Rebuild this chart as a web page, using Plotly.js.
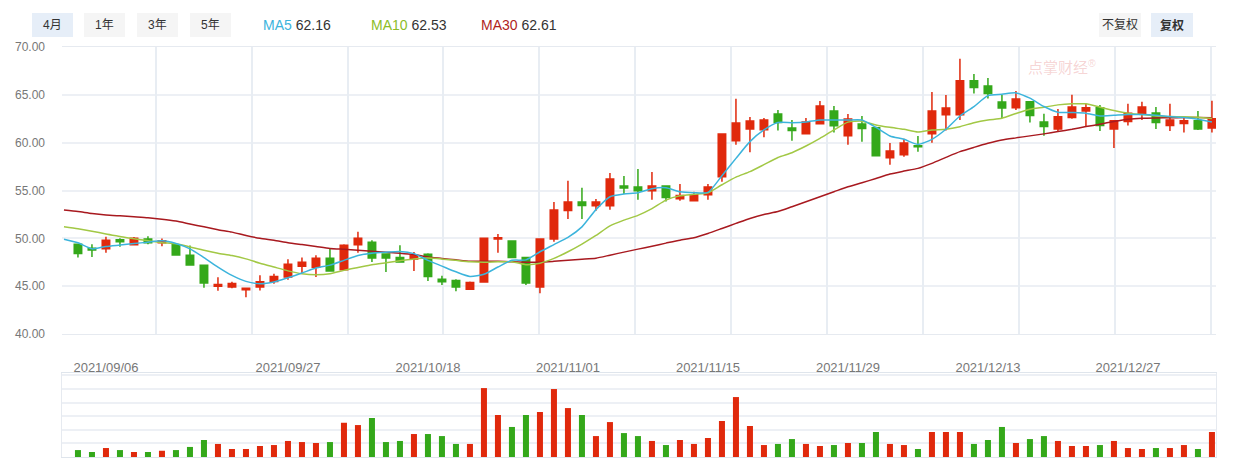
<!DOCTYPE html>
<html>
<head>
<meta charset="utf-8">
<script src="https://cdn.plot.ly/plotly-3.0.1.min.js"></script>
<style>
  html, body { margin: 0; padding: 0; background: #fff; }
  #chart { width: 1246px; height: 460px; }
</style>
</head>
<body>
<div id="chart"></div>
<script>
// K-line data (daily), 2021/09/02 - 2022/01/05

const dates = [
    '2021/09/02','2021/09/03','2021/09/06','2021/09/07','2021/09/08','2021/09/09','2021/09/10','2021/09/13','2021/09/14','2021/09/15',
    '2021/09/16','2021/09/17','2021/09/22','2021/09/23','2021/09/24','2021/09/27','2021/09/28','2021/09/29','2021/09/30','2021/10/08',
    '2021/10/11','2021/10/12','2021/10/13','2021/10/14','2021/10/15','2021/10/18','2021/10/19','2021/10/20','2021/10/21','2021/10/22',
    '2021/10/25','2021/10/26','2021/10/27','2021/10/28','2021/10/29','2021/11/01','2021/11/02','2021/11/03','2021/11/04','2021/11/05',
    '2021/11/08','2021/11/09','2021/11/10','2021/11/11','2021/11/12','2021/11/15','2021/11/16','2021/11/17','2021/11/18','2021/11/19',
    '2021/11/22','2021/11/23','2021/11/24','2021/11/25','2021/11/26','2021/11/29','2021/11/30','2021/12/01','2021/12/02','2021/12/03',
    '2021/12/06','2021/12/07','2021/12/08','2021/12/09','2021/12/10','2021/12/13','2021/12/14','2021/12/15','2021/12/16','2021/12/17',
    '2021/12/20','2021/12/21','2021/12/22','2021/12/23','2021/12/24','2021/12/27','2021/12/28','2021/12/29','2021/12/30','2021/12/31',
    '2022/01/04','2022/01/05'
];

const openP = [
    49.39, 48.97, 48.90, 49.85, 49.32, 49.92, 49.53, 49.32, 48.23, 47.18,
    45.00, 44.90, 44.62, 44.90, 45.50, 45.95, 47.08, 46.97, 47.92, 46.72,
    49.32, 49.60, 48.37, 47.99, 47.85, 48.34, 45.71, 45.60, 44.69, 45.43,
    49.92, 49.71, 47.99, 44.90, 49.92, 52.90, 53.81, 53.41, 53.41, 55.47,
    55.36, 54.98, 55.47, 54.14, 53.93, 54.56, 56.44, 60.21, 61.43, 61.36,
    63.00, 61.54, 60.94, 61.99, 63.32, 60.73, 61.95, 61.57, 58.43, 58.74,
    59.68, 60.94, 62.93, 62.93, 66.46, 65.93, 64.26, 63.66, 64.27, 62.17,
    61.44, 62.63, 63.32, 63.64, 61.44, 62.21, 63.08, 63.11, 61.79, 62.00,
    62.28, 61.54
];
const highP = [
    49.46, 49.39, 50.16, 50.02, 50.13, 50.23, 49.99, 49.39, 49.25, 47.20,
    45.92, 45.46, 44.83, 46.13, 46.30, 47.81, 47.99, 48.23, 48.93, 49.39,
    50.69, 49.81, 48.40, 49.29, 48.58, 48.44, 46.09, 45.71, 45.50, 50.02,
    50.44, 49.81, 48.00, 49.95, 53.81, 56.02, 55.29, 54.10, 56.83, 56.51,
    57.25, 56.93, 55.50, 55.68, 54.87, 55.68, 60.95, 64.58, 62.69, 62.59,
    63.42, 62.37, 62.58, 64.36, 63.84, 63.00, 62.79, 61.67, 59.96, 60.42,
    60.70, 65.30, 64.99, 68.76, 67.19, 66.77, 64.99, 65.41, 64.30, 63.01,
    63.53, 65.00, 64.06, 63.95, 62.38, 64.06, 64.27, 63.74, 64.06, 62.70,
    63.32, 64.37
];
const lowP = [
    47.99, 48.06, 48.48, 49.11, 49.25, 49.39, 49.18, 48.20, 47.15, 44.83,
    44.51, 44.79, 43.85, 44.55, 45.25, 45.67, 46.37, 45.95, 46.50, 46.65,
    48.48, 47.53, 46.48, 47.50, 46.58, 45.53, 45.11, 44.48, 44.69, 45.43,
    48.48, 47.92, 45.11, 44.27, 49.64, 52.02, 52.02, 52.88, 53.00, 54.63,
    54.03, 54.03, 53.86, 53.93, 53.90, 54.03, 55.92, 59.79, 59.00, 60.56,
    61.26, 60.21, 60.90, 61.95, 61.05, 59.79, 60.10, 58.60, 57.70, 58.53,
    59.06, 60.00, 61.26, 62.37, 65.13, 64.61, 62.58, 63.42, 62.10, 60.71,
    61.12, 62.49, 61.75, 61.23, 59.45, 61.79, 62.38, 61.44, 61.23, 61.06,
    61.33, 61.06
];
const closeP = [
    48.41, 48.79, 49.81, 49.64, 50.02, 49.53, 49.74, 48.27, 47.22, 45.32,
    45.18, 45.29, 44.79, 45.46, 46.02, 47.29, 47.50, 47.92, 46.58, 49.29,
    50.02, 47.95, 47.95, 47.53, 48.20, 46.02, 45.46, 44.90, 45.39, 50.02,
    50.06, 47.99, 45.32, 49.92, 52.97, 53.81, 53.43, 53.79, 56.20, 55.26,
    54.98, 55.47, 54.28, 54.49, 54.56, 55.36, 60.91, 62.06, 62.27, 62.38,
    62.10, 61.26, 62.16, 63.84, 61.78, 62.48, 61.47, 58.64, 59.13, 59.96,
    59.58, 63.32, 63.63, 66.46, 65.76, 65.13, 63.63, 64.57, 62.84, 61.68,
    62.70, 63.74, 63.64, 61.79, 62.28, 63.08, 63.74, 62.10, 62.38, 62.28,
    61.44, 62.49
];

// volume, 万手
const volume = [
     5.1,  3.7,  6.6,  5.1,  3.7,  3.7,  4.6,  5.1,  7.4, 12.5,
     9.6,  5.9,  5.9,  8.1,  8.8, 11.8, 11.0, 10.3, 11.0, 25.2,
    23.5, 28.7, 11.0, 11.8, 16.9, 16.9, 15.4,  9.6,  9.6, 50.7,
    30.9, 22.1, 30.9, 33.1, 50.0, 36.0, 30.9, 15.4, 25.7, 17.6,
    15.4, 11.8,  8.8, 12.5,  9.6, 14.0, 26.5, 44.1, 22.8,  8.8,
     9.6, 13.2,  9.6,  8.1,  8.8, 10.3, 10.3, 18.4,  9.6,  8.8,
     5.9, 18.4, 18.4, 18.4,  9.6, 12.5, 22.1, 10.3, 13.2, 15.4,
    11.8,  8.1,  8.1,  8.8, 11.8,  6.6,  5.9,  6.6,  6.6,  8.8,
     5.9, 18.4
];

// moving averages, first value belongs to the day before 2021/09/02
const ma5 = [
    49.90,
    49.53, 48.90, 49.15, 49.30, 49.45, 49.60, 49.74, 49.46, 48.90, 47.99,
    47.00, 46.13, 45.50, 45.25, 45.43, 45.88, 46.37, 46.90, 47.20, 47.70,
    48.20, 48.45, 48.55, 48.62, 48.40, 47.70, 47.10, 46.50, 46.02, 46.25,
    47.00, 47.70, 47.75, 48.60, 49.35, 50.10, 51.20, 53.00, 54.35, 54.63,
    54.77, 55.19, 55.29, 54.87, 54.77, 54.80, 56.55, 58.36, 60.11, 61.33,
    62.10, 62.09, 62.16, 62.37, 62.37, 62.37, 62.37, 61.60, 60.70, 60.35,
    59.82, 60.35, 61.40, 62.79, 63.77, 64.92, 65.06, 65.20, 64.65, 63.78,
    63.18, 63.15, 63.08, 62.80, 62.87, 62.94, 62.94, 62.87, 62.73, 62.63,
    62.45, 62.16
];
const ma10 = [
    51.20,
    51.00, 50.75, 50.45, 50.20, 49.95, 49.75, 49.55, 49.43, 49.10, 48.75,
    48.45, 48.20, 47.85, 47.40, 47.00, 46.60, 46.30, 46.20, 46.30, 46.65,
    46.95, 47.25, 47.45, 47.65, 47.85, 47.95, 47.85, 47.70, 47.55, 47.50,
    47.55, 47.55, 47.25, 47.40, 47.90, 48.60, 49.40, 50.30, 51.30, 51.90,
    52.40, 53.10, 54.00, 54.45, 54.60, 54.75, 55.60, 56.40, 56.97, 57.70,
    58.45, 58.95, 59.65, 60.45, 61.33, 62.15, 62.25, 61.85, 61.60, 61.40,
    61.12, 61.33, 61.40, 61.67, 62.09, 62.37, 62.55, 63.05, 63.50, 63.71,
    63.95, 64.06, 64.06, 63.71, 63.36, 63.08, 62.94, 62.80, 62.73, 62.70,
    62.65, 62.53
];
const ma30 = [
    52.95,
    52.80, 52.60, 52.45, 52.35, 52.25, 52.15, 52.00, 51.80, 51.50, 51.20,
    50.90, 50.65, 50.30, 50.00, 49.80, 49.55, 49.35, 49.15, 48.95, 48.85,
    48.75, 48.65, 48.55, 48.45, 48.30, 48.05, 47.90, 47.75, 47.60, 47.60,
    47.60, 47.55, 47.50, 47.50, 47.60, 47.72, 47.82, 47.93, 48.24, 48.56,
    48.87, 49.18, 49.50, 49.81, 50.06, 50.51, 51.03, 51.56, 52.08, 52.50,
    52.80, 53.30, 53.82, 54.35, 54.87, 55.39, 55.81, 56.26, 56.72, 57.03,
    57.31, 57.84, 58.46, 59.06, 59.51, 59.93, 60.28, 60.50, 60.71, 60.92,
    61.16, 61.40, 61.68, 61.93, 62.21, 62.45, 62.56, 62.59, 62.60, 62.63,
    62.63, 62.61
];

const tickDates = ['2021/09/06', '2021/09/27', '2021/10/18', '2021/11/01', '2021/11/15', '2021/11/29', '2021/12/13', '2021/12/27'];
const periods = ['4月', '1年', '3年', '5年'];
const adjusts = ['不复权', '复权'];

// Colors
const UP = '#e0290c';
const DOWN = '#34a81a';
const C_MA5 = '#3cb4dc';
const C_MA10 = '#a2c845';
const C_MA30 = '#a8191f';

const W = 1246, H = 460;
const px = v => v / W;
const py = v => 1 - v / H;

const idx = dates.map((d, i) => i);
const maX = [-1].concat(idx);
const volColors = closeP.map((c, i) => c >= openP[i] ? UP : DOWN);

const traces = [];

traces.push({
    type: 'candlestick',
    x: idx,
    open: openP,
    high: highP,
    low: lowP,
    close: closeP,
    increasing: { line: { color: UP, width: 1.5 }, fillcolor: UP },
    decreasing: { line: { color: DOWN, width: 1.5 }, fillcolor: DOWN },
    whiskerwidth: 0,
    hoverinfo: 'skip',
    showlegend: false,
    xaxis: 'x',
    yaxis: 'y'
});

[[ma30, C_MA30], [ma10, C_MA10], [ma5, C_MA5]].forEach(([vals, color]) => {
    traces.push({
        type: 'scatter',
        mode: 'lines',
        x: maX,
        y: vals,
        line: { color: color, width: 1.5, shape: 'spline', smoothing: 0.6 },
        hoverinfo: 'skip',
        showlegend: false,
        xaxis: 'x',
        yaxis: 'y'
    });
});

// Volume bars
traces.push({
    type: 'bar',
    x: idx,
    y: volume,
    width: 0.43,
    marker: { color: volColors, line: { width: 0 } },
    hoverinfo: 'skip',
    showlegend: false,
    xaxis: 'x2',
    yaxis: 'y2'
});

// empty trace that carries the vertical grid axis
traces.push({
    type: 'scatter', x: [null], y: [null], mode: 'markers',
    xaxis: 'x3', yaxis: 'y', hoverinfo: 'skip', showlegend: false
});

const xRange = [-1.14, 81.29];
const xDomain = [px(62), px(1216)];
const gridC = '#edf0f5';

const shapes = [];
const annotations = [];

// period buttons
const periodLeft = [32, 84, 137, 190];
periods.forEach((p, i) => {
    shapes.push({
        type: 'rect', xref: 'paper', yref: 'paper',
        x0: px(periodLeft[i]), x1: px(periodLeft[i] + 41),
        y0: py(37), y1: py(13),
        fillcolor: i === 0 ? '#e6eef8' : '#f5f5f5', line: { width: 0 }
    });
    annotations.push({
        xref: 'paper', yref: 'paper', showarrow: false,
        xanchor: 'center', yanchor: 'middle',
        x: px(periodLeft[i] + 20.5), y: py(25),
        text: p, font: { size: 12, color: '#333' }
    });
});

// adjust buttons
const adjLeft = [1099, 1151];
adjusts.forEach((a, i) => {
    shapes.push({
        type: 'rect', xref: 'paper', yref: 'paper',
        x0: px(adjLeft[i]), x1: px(adjLeft[i] + 42),
        y0: py(37), y1: py(13),
        fillcolor: i === 1 ? '#e6eef8' : '#f5f5f5', line: { width: 0 }
    });
    annotations.push({
        xref: 'paper', yref: 'paper', showarrow: false,
        xanchor: 'center', yanchor: 'middle',
        x: px(adjLeft[i] + 21), y: py(25),
        text: i === 1 ? '<b>' + a + '</b>' : a,
        font: { size: 12, color: '#333' }
    });
});

// MA legend
const maInfo = [['MA5', ma5, C_MA5, 261], ['MA10', ma10, '#8cbd28', 369], ['MA30', ma30, '#b01e22', 479]];
maInfo.forEach(([name, vals, color, left]) => {
    annotations.push({
        xref: 'paper', yref: 'paper', showarrow: false,
        xanchor: 'left', yanchor: 'middle', x: px(left), y: py(25),
        text: '<span style="color:' + color + '">' + name + '</span> ' + vals[vals.length - 1].toFixed(2),
        font: { size: 14, color: '#333' }
    });
});

// watermark
annotations.push({
    xref: 'paper', yref: 'paper', showarrow: false,
    xanchor: 'center', yanchor: 'middle',
    x: px(1062), y: py(66),
    text: '点掌财经<sup>®</sup>',
    font: { size: 15, color: 'rgba(225, 110, 110, 0.3)' }
});

const layout = {
    width: W,
    height: H,
    margin: { t: 0, b: 0, l: 0, r: 0 },
    paper_bgcolor: '#ffffff',
    plot_bgcolor: 'rgba(0,0,0,0)',
    font: { family: 'Liberation Sans, Arial, Noto Sans CJK SC, sans-serif', size: 12, color: '#666' },
    showlegend: false,
    boxgap: 0.27,
    boxgroupgap: 0.27,
    xaxis: {
        domain: xDomain,
        range: xRange,
        anchor: 'y',
        tickmode: 'array',
        tickvals: tickDates.map(d => dates.indexOf(d)),
        ticktext: tickDates,
        ticks: '',
        tickfont: { size: 13, color: '#777' },
        ticklabelstandoff: 21,
        showgrid: false,
        zeroline: false,
        showline: true,
        linecolor: '#e6eaf0',
        linewidth: 1,
        mirror: true,
        rangeslider: { visible: false },
        fixedrange: true
    },
    xaxis3: {
        overlaying: 'x',
        anchor: 'y',
        domain: xDomain,
        range: [0, 1154],
        tick0: 93.7,
        dtick: 95.9,
        showgrid: true,
        gridcolor: '#e8edf3',
        gridwidth: 2,
        showticklabels: false,
        ticks: '',
        zeroline: false,
        showline: false
    },
    yaxis: {
        domain: [py(334), py(47)],
        range: [40, 70],
        dtick: 5,
        tickformat: '.2f',
        showgrid: true,
        gridcolor: gridC,
        gridwidth: 2,
        zeroline: false,
        showline: false,
        ticks: '',
        ticklabelstandoff: 16,
        tickfont: { size: 12, color: '#777' },
        fixedrange: true
    },
    xaxis2: {
        domain: xDomain,
        range: xRange,
        anchor: 'y2',
        showticklabels: false,
        ticks: '',
        showgrid: false,
        zeroline: false,
        showline: true,
        linecolor: '#dfe5ec',
        linewidth: 1,
        mirror: true
    },
    yaxis2: {
        domain: [py(457), py(373)],
        range: [0, 61.8],
        dtick: 10,
        showgrid: true,
        gridcolor: gridC,
        gridwidth: 2,
        showticklabels: false,
        ticks: '',
        zeroline: false,
        showline: true,
        linecolor: '#e6eaf0',
        mirror: true
    },
    shapes: shapes,
    annotations: annotations
};

Plotly.newPlot('chart', traces, layout, { displayModeBar: false, staticPlot: true });
</script>
</body>
</html>
